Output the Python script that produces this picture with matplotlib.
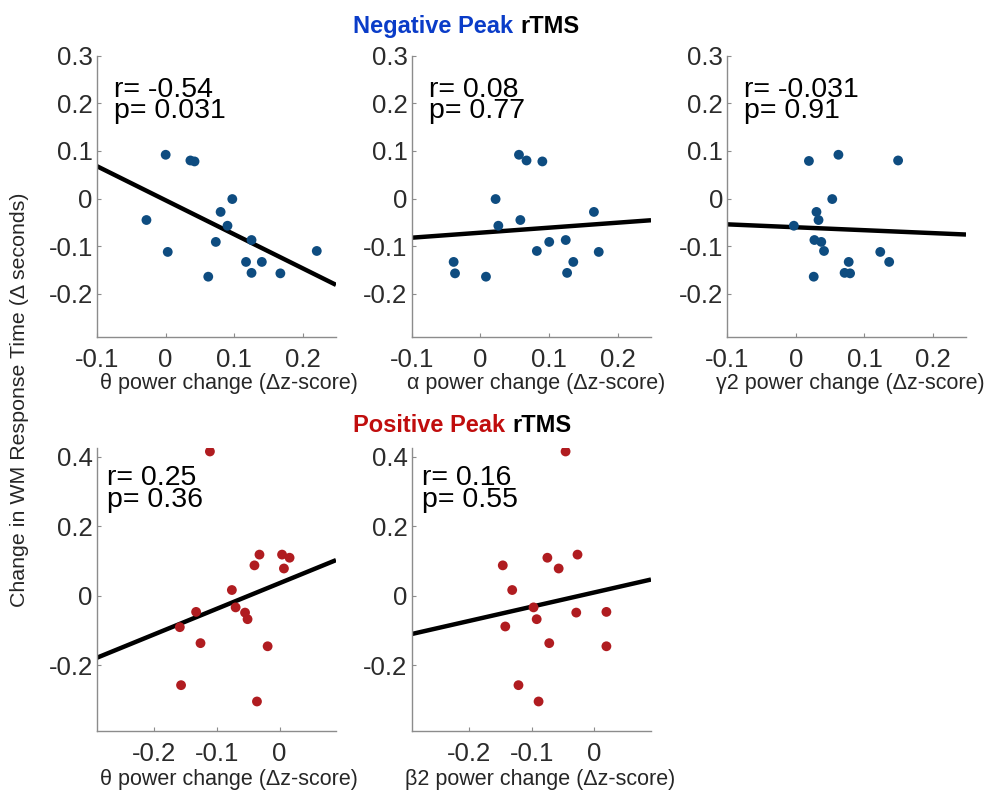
import numpy as np
import matplotlib
matplotlib.use('Agg')
import matplotlib.pyplot as plt

plt.rcParams['font.family'] = ['Liberation Sans', 'DejaVu Sans']

# Negative peak rTMS: change in response time (same subjects in all three panels)
neg_theta_x = [0.000, 0.036, 0.042, -0.028, 0.003, 0.097, 0.080, 0.090,
               0.073, 0.125, 0.117, 0.140, 0.125, 0.167, 0.062, 0.220]
neg_theta_y = [0.092, 0.080, 0.078, -0.045, -0.112, -0.001, -0.028, -0.057,
               -0.091, -0.087, -0.133, -0.133, -0.156, -0.157, -0.164, -0.110]

neg_alpha_x = [0.056, 0.067, 0.090, 0.022, 0.026, 0.058, 0.165, 0.100,
               0.124, 0.082, 0.172, 0.135, 0.126, -0.039, -0.037, 0.008]
neg_alpha_y = [0.092, 0.080, 0.078, -0.001, -0.057, -0.045, -0.028, -0.091,
               -0.087, -0.110, -0.112, -0.133, -0.156, -0.133, -0.157, -0.164]

neg_gamma_x = [0.019, 0.062, 0.149, 0.053, 0.030, 0.033, -0.003, 0.027,
               0.037, 0.041, 0.123, 0.136, 0.077, 0.071, 0.079, 0.026]
neg_gamma_y = [0.079, 0.092, 0.080, -0.001, -0.028, -0.045, -0.057, -0.087,
               -0.091, -0.110, -0.112, -0.133, -0.133, -0.156, -0.157, -0.164]

# Positive peak rTMS
pos_theta_x = [-0.111, -0.032, 0.004, 0.016, -0.040, 0.007, -0.076, -0.070,
               -0.055, -0.051, -0.133, -0.159, -0.126, -0.019, -0.157, -0.036]
pos_theta_y = [0.415, 0.118, 0.118, 0.109, 0.087, 0.078, 0.016, -0.034,
               -0.049, -0.068, -0.047, -0.091, -0.137, -0.146, -0.258, -0.305]

pos_beta_x = [-0.046, -0.027, -0.075, -0.146, -0.057, -0.131, -0.097, -0.029,
              0.019, -0.092, -0.142, -0.072, 0.019, -0.121, -0.089]
pos_beta_y = [0.415, 0.118, 0.109, 0.087, 0.078, 0.016, -0.034, -0.049,
              -0.047, -0.068, -0.089, -0.137, -0.146, -0.258, -0.305]

stats = [('r= -0.54', 'p= 0.031'), ('r= 0.08', 'p= 0.77'), ('r= -0.031', 'p= 0.91'),
         ('r= 0.25', 'p= 0.36'), ('r= 0.16', 'p= 0.55')]
xlabels = ['\u03b8 power change (\u0394z-score)', '\u03b1 power change (\u0394z-score)',
           '\u03b32 power change (\u0394z-score)', '\u03b8 power change (\u0394z-score)',
           '\u03b22 power change (\u0394z-score)']

BLUE = '#0e4c80'
RED = '#b01c20'

W, H = 997, 791
fig = plt.figure(figsize=(W / 100, H / 100), dpi=100)


def px_axes(x0, x1, ytop, ybot):
    return fig.add_axes([x0 / W, 1 - ybot / H, (x1 - x0) / W, (ybot - ytop) / H])


def panel(ax, x, y, color, xlim, ylim, xticks, yticks, yticklabels, stat, text_x, text_y):
    x = np.asarray(x)
    y = np.asarray(y)
    ax.scatter(x, y, s=50, color=color, edgecolors='none', zorder=3)
    k, b = np.polyfit(x, y, 1)
    xs = np.array(xlim)
    ax.plot(xs, k * xs + b, color='black', lw=3.2, zorder=2, solid_capstyle='butt')
    ax.set_xlim(xlim)
    ax.set_ylim(ylim)
    ax.set_xticks(xticks)
    ax.set_xticklabels(['0' if v == 0 else ('%g' % v) for v in xticks])
    ax.set_yticks(yticks)
    ax.set_yticklabels(yticklabels)
    for s in ['top', 'right']:
        ax.spines[s].set_visible(False)
    for s in ['left', 'bottom']:
        ax.spines[s].set_color('#8c8c8c')
        ax.spines[s].set_linewidth(1.0)
    ax.tick_params(direction='in', length=3, color='#8c8c8c', labelsize=18.5,
                   labelcolor='#2b2b2b')
    ax.tick_params(axis='x', pad=8)
    ax.tick_params(axis='y', pad=3)
    # r / p annotation, last line's baseline at text_y
    ax.text(text_x, text_y, stat[0] + '\n' + stat[1], transform=ax.transAxes,
            fontsize=20.5, va='baseline', ha='left', linespacing=0.79)


top_xlim = (-0.1, 0.248)
top_ylim = (-0.29, 0.3)
top_xt = [-0.1, 0, 0.1, 0.2]
top_yt = [-0.2, -0.1, 0, 0.1, 0.2, 0.3]
top_ytl = ['-0.2', '-0.1', '0', '0.1', '0.2', '0.3']

bot_xlim = (-0.291, 0.09)
bot_ylim = (-0.39, 0.425)
bot_xt = [-0.2, -0.1, 0]
bot_yt = [-0.2, 0, 0.2, 0.4]
bot_ytl = ['-0.2', '0', '0.2', '0.4']

ax1 = px_axes(97, 336, 55.7, 336.7)
ax2 = px_axes(411.7, 651, 55.7, 336.7)
ax3 = px_axes(727.3, 966, 55.7, 336.7)
ax4 = px_axes(97, 336, 448, 731)
ax5 = px_axes(411.7, 651, 448, 731)

panel(ax1, neg_theta_x, neg_theta_y, BLUE, top_xlim, top_ylim, top_xt, top_yt, top_ytl, stats[0], 0.07, 0.777)
panel(ax2, neg_alpha_x, neg_alpha_y, BLUE, top_xlim, top_ylim, top_xt, top_yt, top_ytl, stats[1], 0.072, 0.777)
panel(ax3, neg_gamma_x, neg_gamma_y, BLUE, top_xlim, top_ylim, top_xt, top_yt, top_ytl, stats[2], 0.07, 0.777)
panel(ax4, pos_theta_x, pos_theta_y, RED, bot_xlim, bot_ylim, bot_xt, bot_yt, bot_ytl, stats[3], 0.04, 0.792)
panel(ax5, pos_beta_x, pos_beta_y, RED, bot_xlim, bot_ylim, bot_xt, bot_yt, bot_ytl, stats[4], 0.042, 0.792)

# x labels
for (cx, cy), lab in zip([(229, 383), (536, 383), (850, 383), (229, 780), (540, 780)], xlabels):
    fig.text(cx / W, 1 - cy / H, lab, ha='center', va='center', fontsize=15.5, color='#262626')

fig.text(20 / W, 1 - 400 / H, 'Change in WM Response Time (\u0394 seconds)', rotation=90,
         ha='center', va='center', fontsize=15.4, color='#262626')

# row titles, two colours
for tx, ty, word, col in [(520, 33, 'Negative Peak ', '#0a3cc8'), (512, 432, 'Positive Peak ', '#c00d0d')]:
    fig.text(tx / W, 1 - ty / H, word, ha='right', va='baseline', fontsize=17,
             fontweight='bold', color=col)
    fig.text(tx / W, 1 - ty / H, 'rTMS', ha='left', va='baseline', fontsize=17,
             fontweight='bold', color='black')

fig.savefig('out.png', dpi=100)
